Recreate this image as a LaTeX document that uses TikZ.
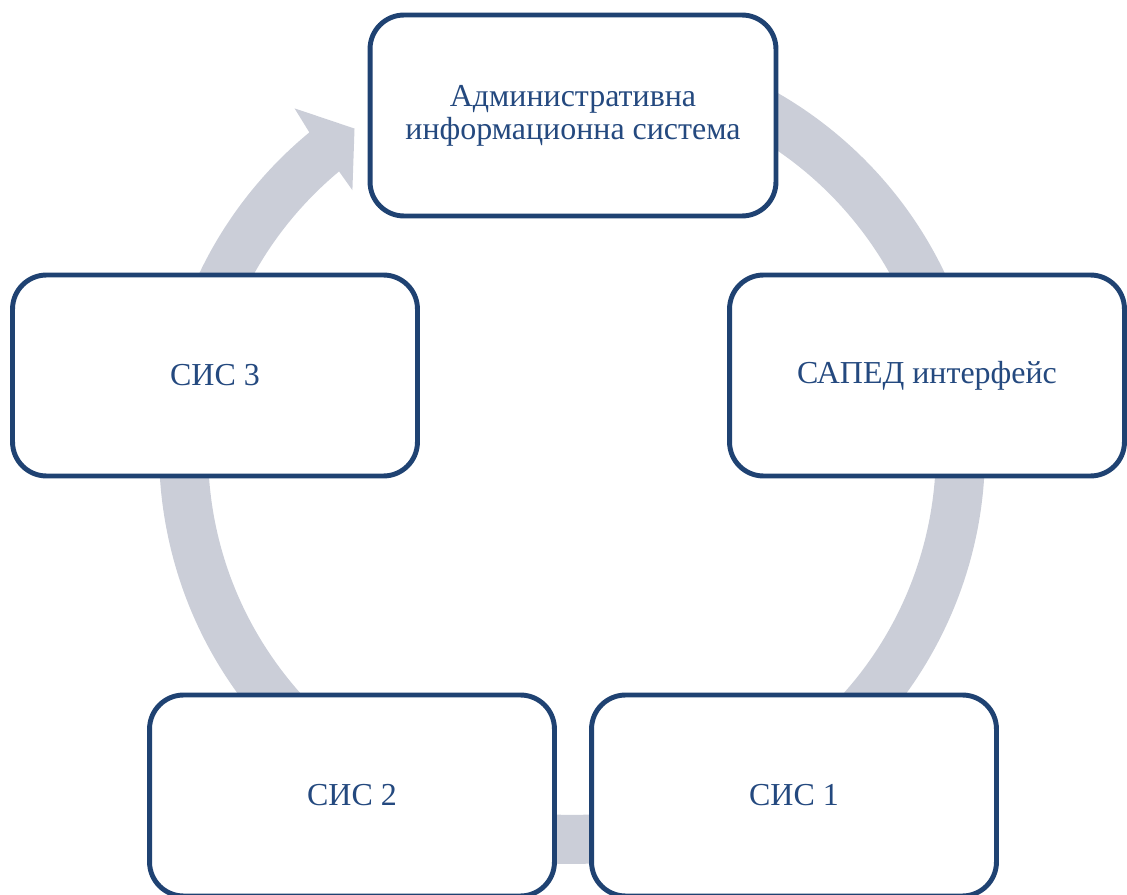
\documentclass[tikz,border=0pt]{standalone}
\usepackage{fontspec}
\setmainfont{Liberation Serif}
\definecolor{boxblue}{HTML}{1F4272}
\definecolor{txtblue}{HTML}{24497F}
\definecolor{ringgray}{HTML}{CBCED8}
\tikzset{
  cyclebox/.style={draw=boxblue, line width=2.8pt, fill=white, rounded corners=0.68cm,
    minimum height=4.02cm, inner sep=0pt, text=txtblue, align=center,
    font=\fontsize{18.2}{18.9}\selectfont},
}
\begin{document}
\begin{tikzpicture}[x=0.02cm,y=0.02cm]
\useasboundingbox (0,0) rectangle (1127,894);
\clip (0,0) rectangle (1127,894);
% ring arrow
\begin{scope}[shift={(572,443)}]
\fill[ringgray] (100:8.26cm) arc[start angle=100, end angle=-230.5, radius=8.26cm]
  -- (-231:8.82cm) -- (-236:7.78cm) -- (-229.9:6.82cm) -- (-230.2:7.28cm)
  arc[start angle=-230.2, end angle=100, radius=7.28cm] -- cycle;
\end{scope}
% boxes
\node[cyclebox, minimum width=8.12cm] (ais) at (573,778.5) {Административна\\информационна система};
\node[cyclebox, minimum width=7.9cm] (saped) at (927,518.5) {САПЕД интерфейс};
\node[cyclebox, minimum width=8.1cm] (sis1) at (794,98.5) {СИС 1};
\node[cyclebox, minimum width=8.1cm] (sis2) at (352,98.5) {СИС 2};
\node[cyclebox, minimum width=8.1cm] (sis3) at (215,518.5) {СИС 3};
\end{tikzpicture}
\end{document}
